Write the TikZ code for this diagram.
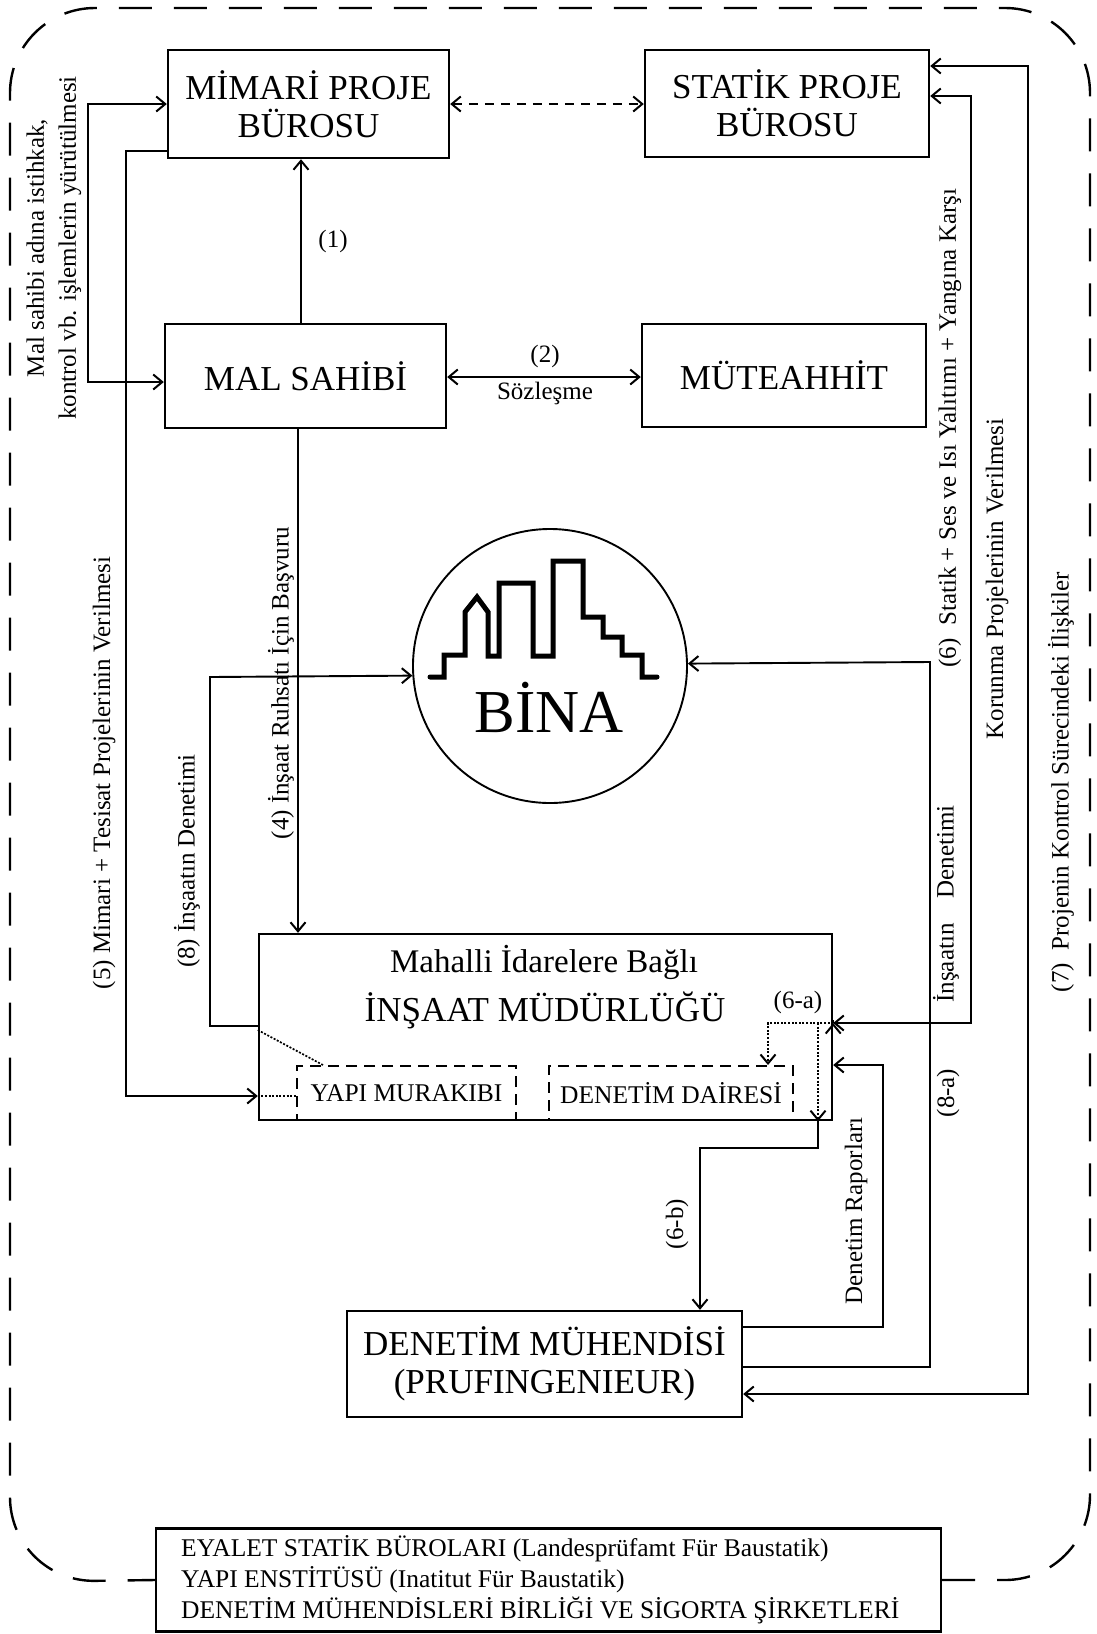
\documentclass[tikz,border=0pt]{standalone}
\usepackage{fontspec}
\setmainfont{Liberation Serif}
\usetikzlibrary{arrows.meta}
\newcommand{\fsize}[1]{\fontsize{#1}{#1*1.15}\selectfont}
\begin{document}
\begin{tikzpicture}[
        x=1pt, y=-1pt,
        >={Straight Barb[length=9pt,width=15pt,line width=2pt]},
        bigbox/.style={
            rectangle,
            draw=black,
            line width=2.4pt,
            inner sep=0pt,
            align=center,
            font=\fontsize{35}{38}\selectfont
        },
        innerbox/.style={
            rectangle,
            draw=black,
            dashed,
            dash pattern=on 11pt off 7pt,
            line width=2pt,
            inner sep=0pt,
            font=\fontsize{25.5}{30}\selectfont
        },
        conn/.style={line width=1.9pt},
        dotconn/.style={line width=1.7pt, dash pattern=on 2pt off 1.6pt},
        lbl/.style={inner sep=0pt, align=center, font=\fontsize{25}{32}\selectfont},
        vlbl/.style={lbl, rotate=90}
    ]
        \useasboundingbox (0,0) rectangle (1096,1634);

        % Kutular
        \node[bigbox, minimum width=281pt, minimum height=108pt] (mimari) at (308.5,104) {MİMARİ PROJE\\BÜROSU};
        \node[bigbox, minimum width=284pt, minimum height=107pt] (statik) at (787,103.5) {STATİK PROJE\\BÜROSU};
        \node[bigbox, minimum width=281pt, minimum height=104pt] (malsahibi) at (305.5,376) {MAL SAHİBİ};
        \node[bigbox, minimum width=284pt, minimum height=103pt] (muteahhit) at (784,375.5) {MÜTEAHHİT};
        \node[bigbox, minimum width=573pt, minimum height=186pt] (insaat) at (545.5,1027) {};
        \node[bigbox, minimum width=395pt, minimum height=106pt] (denetim) at (544.5,1364) {DENETİM MÜHENDİSİ\\(PRUFINGENIEUR)};
        \node[bigbox, minimum width=785pt, minimum height=103pt] (eyalet) at (548.5,1580) {};
        \node[lbl, anchor=west, font=\fontsize{25.5}{31}\selectfont, align=left] (eyalettext) at (181,1580) {EYALET STATİK BÜROLARI (Landesprüfamt Für Baustatik)\\YAPI ENSTİTÜSÜ (Inatitut Für Baustatik)\\DENETİM MÜHENDİSLERİ BİRLİĞİ VE SİGORTA ŞİRKETLERİ};

        % Bina
        \node[circle, draw=black, line width=1.9pt, inner sep=0pt, minimum size=274pt] (bina) at (550,666) {};
        \node[inner sep=0pt, font=\fontsize{61}{61}\selectfont] (binatext) at (549,707) {BİNA};
        \draw[line width=5pt, line cap=round, line join=miter]
            (430,677) -- (444,677) -- (444,655) -- (465,655) -- (465,612) -- (477,597) -- (488,612)
            -- (488,656) -- (499,656) -- (499,583) -- (533,583) -- (533,656) -- (553,656) -- (553,561)
            -- (583,561) -- (583,617) -- (603,617) -- (603,637) -- (622,637) -- (622,655) -- (642,655)
            -- (642,677) -- (657,677);

        % Insaat mudurlugu icindekiler
        \node[lbl, font=\fontsize{33}{36}\selectfont] (mahalli) at (544,962) {Mahalli İdarelere Bağlı};
        \node[lbl, font=\fontsize{35}{38}\selectfont] (mudurluk) at (545,1010) {İNŞAAT MÜDÜRLÜĞÜ};
        \node[innerbox, minimum width=219pt, minimum height=54pt] (murakip) at (406.5,1093) {YAPI MURAKIBI};
        \node[innerbox, minimum width=244pt, minimum height=54pt] (daire) at (671,1093) {DENETİM DAİRESİ};

        % Dis cerceve
        \coordinate (outerse) at (1090,1580);
        \coordinate (outerne) at (1090,8);
        \coordinate (outernw) at (10,8);
        \coordinate (outersw) at (10,1582);
        \draw[line width=2.4pt, dash pattern=on 33pt off 22pt, rounded corners=85pt]
            (eyalet.east) -- (outerse) -- (outerne) -- (outernw) -- (outersw) -- (eyalet.west);

        % Baglantilar
        \draw[conn, <->] (mimari.west |- 0,104) -- (88,104) -- (88,382) -- (malsahibi.west |- 0,382);
        \draw[conn, ->] (malsahibi.north -| 301,0) -- (mimari.south -| 301,0);
        \draw[conn, <->, dashed, dash pattern=on 9pt off 7pt] (mimari.east |- 0,104) -- (statik.west |- 0,104);
        \draw[conn, <->] (malsahibi.east |- 0,377) -- (muteahhit.west |- 0,377);
        \draw[conn, ->] (malsahibi.south -| 298,0) -- (insaat.north -| 298,0);
        \draw[conn, ->] (mimari.west |- 0,151) -- (126,151) -- (126,1096) -- (insaat.west |- 0,1096);
        \draw[conn, ->] (insaat.west |- 0,1026) -- (210,1026) -- (210,677) -- (bina.184);
        \draw[conn, <->] (insaat.east |- 0,1023) -- (971,1023) -- (971,96) -- (statik.east |- 0,96);
        \draw[conn, ->] (denetim.east |- 0,1367) -- (930,1367) -- (930,662) -- (bina.1);
        \draw[conn, <->] (denetim.east |- 0,1394) -- (1028,1394) -- (1028,66) -- (statik.east |- 0,66);
        \draw[conn, ->] (denetim.east |- 0,1327) -- (883,1327) -- (883,1065) -- (insaat.east |- 0,1065);
        \draw[conn, ->] (insaat.south -| 818,0) -- (818,1148) -- (700,1148) -- (denetim.north -| 700,0);

        % Noktali baglantilar
        \draw[dotconn, ->, solid] (insaat.east |- 0,1023) -- (insaat.east |- 0,1023);
        \draw[dotconn] (insaat.west |- 0,1030) -- (daire.north -| 323,0);
        \draw[dotconn] (insaat.west |- 0,1096) -- (murakip.west |- 0,1096);
        \draw[dotconn, ->] (insaat.east |- 0,1023) -- (768,1023) -- (daire.north -| 768,0);
        \draw[dotconn, ->] (818,1023) -- (insaat.south -| 818,0);

        % Etiketler
        \node[vlbl] (lblmal) at (54,248) {Mal sahibi adına istihkak,\\kontrol vb. işlemlerin yürütülmesi};
        \node[lbl] (lblone) at (333,241) {(1)};
        \node[lbl] (lbltwo) at (545,356) {(2)};
        \node[lbl] (lblsoz) at (545,393) {Sözleşme};
        \node[vlbl] (lblfive) at (104,773) {(5) Mimari + Tesisat Projelerinin Verilmesi};
        \node[vlbl] (lblfour) at (281,683) {(4) İnşaat Ruhsatı İçin Başvuru};
        \node[vlbl] (lbleight) at (187,861) {(8) İnşaatın Denetimi};
        \node[vlbl] (lblsix) at (950,428) {(6)\ \ Statik + Ses ve Isı Yalıtımı + Yangına Karşı};
        \node[vlbl] (lblkor) at (997,579) {Korunma Projelerinin Verilmesi};
        \node[vlbl] (lbldene) at (946,904) {İnşaatın\ \ \ \ Denetimi};
        \node[vlbl] (lbleighta) at (948,1093) {(8-a)};
        \node[vlbl] (lblseven) at (1061,782) {(7)\ \ Projenin Kontrol Sürecindeki İlişkiler};
        \node[vlbl] (lblrapor) at (856,1211) {Denetim Raporları};
        \node[vlbl] (lblsixb) at (677,1224) {(6-b)};
        \node[lbl] (lblsixa) at (798,1002) {(6-a)};
    \end{tikzpicture}
\end{document}
